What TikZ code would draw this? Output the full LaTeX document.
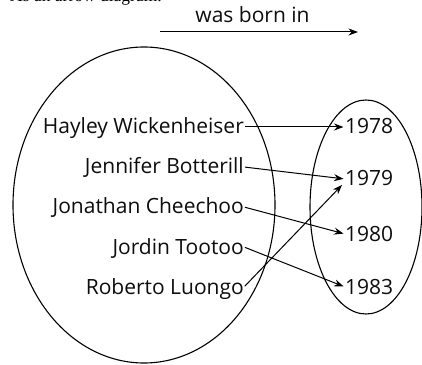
\documentclass[tikz,border=0pt]{standalone}
\usepackage{fontspec}
\setmainfont{Open Sans}
\newfontfamily\serifcap{Liberation Serif}
\usetikzlibrary{arrows.meta}
\begin{document}
\begin{tikzpicture}[x=1pt,y=1pt,
  lbl/.style={font=\fontsize{21}{24}\selectfont, text=black!95, inner sep=0pt, text height=15pt, text depth=1pt},
  pname/.style={lbl, anchor=east},
  yr/.style={lbl, anchor=west},
  conn/.style={line width=1pt, -{Stealth[length=9.5pt,width=7pt]}},
  oval/.style={line width=1.1pt}]
\useasboundingbox (0,0) rectangle (422,364);
\node[font=\serifcap\fontsize{17.5}{20}\selectfont, anchor=base west, inner sep=0pt] (cap) at (10,362.5) {As an arrow diagram.};
% ellipses
\draw[oval] (144,159) ellipse [x radius=131, y radius=158];
\draw[oval] (366,157) ellipse [x radius=56, y radius=107];
% top arrow
\coordinate (ta) at (160,332);
\coordinate (tb) at (358,332);
\draw[conn] (ta) -- (tb);
\node[font=\fontsize{21}{24}\selectfont, text=black!95, inner sep=0pt, anchor=base] (wb) at (252.5,341) {was born in};
% names
\node[pname] (h) at (244,237) {Hayley Wickenheiser};
\node[pname] (j) at (244,197) {Jennifer Botterill};
\node[pname] (c) at (244,157) {Jonathan Cheechoo};
\node[pname] (t) at (244,117) {Jordin Tootoo};
\node[pname] (r) at (244,77) {Roberto Luongo};
% years
\node[yr] (y78) at (345,237) {1978};
\node[yr] (y79) at (345,185) {1979};
\node[yr] (y80) at (345,130) {1980};
\node[yr] (y83) at (345,77) {1983};
% connectors
\draw[conn, shorten <=1pt, shorten >=1.5pt] (h.east) -- (y78.west);
\draw[conn, shorten <=1pt, shorten >=1.5pt] (j.east) -- (y79.west);
\draw[conn, shorten <=1pt, shorten >=1.5pt] (c.east) -- (y80.west);
\draw[conn, shorten <=1pt, shorten >=1.5pt] (t.east) -- (y83.west);
\draw[conn, shorten <=1pt] (r.east) -- ([shift={(-3pt,-6pt)}]y79.west);
\end{tikzpicture}
\end{document}
